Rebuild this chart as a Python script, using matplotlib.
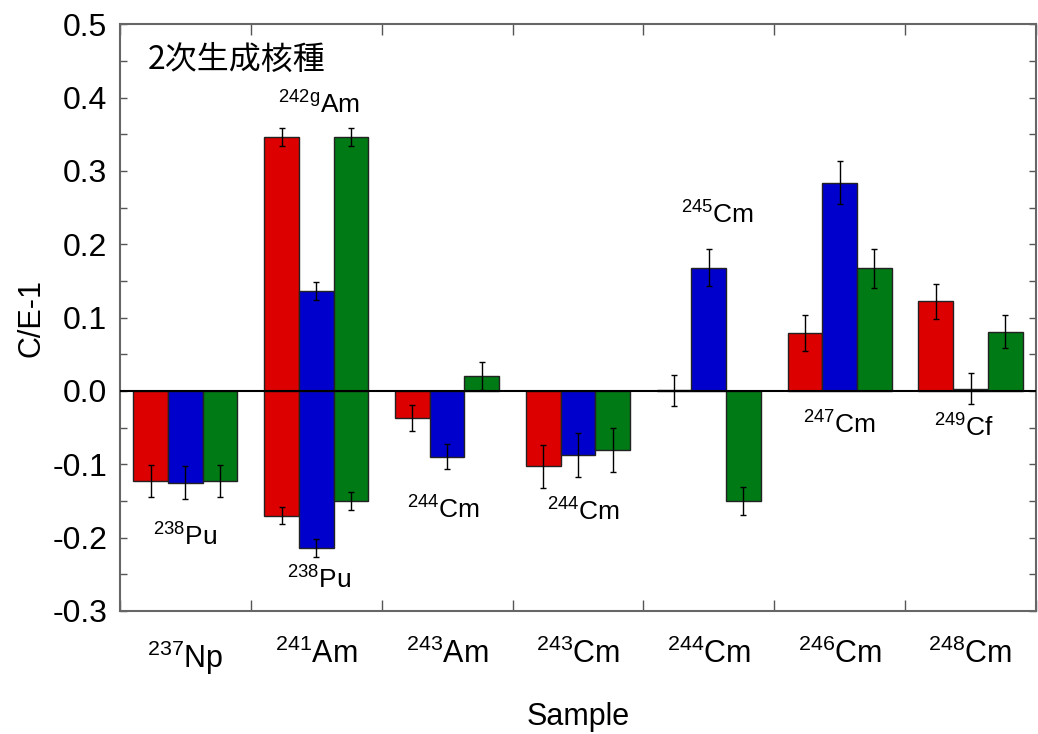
import numpy as np
import matplotlib
matplotlib.use('Agg')
import matplotlib.pyplot as plt
from matplotlib.ticker import MultipleLocator

plt.rcParams['font.family'] = ['Liberation Sans', 'DejaVu Sans']
plt.rcParams['mathtext.fontset'] = 'custom'
plt.rcParams['mathtext.rm'] = 'Liberation Sans'
plt.rcParams['mathtext.it'] = 'Liberation Sans:italic'

# Samples on the x axis
samples = [r'$\mathregular{^{237}}$Np', r'$\mathregular{^{241}}$Am', r'$\mathregular{^{243}}$Am',
           r'$\mathregular{^{243}}$Cm', r'$\mathregular{^{244}}$Cm', r'$\mathregular{^{246}}$Cm',
           r'$\mathregular{^{248}}$Cm']

# Secondary nuclides: which sample they come from and C/E-1 for the three libraries
product_sample = [0, 1, 1, 2, 3, 4, 5, 6]
product_names = [r'$\mathregular{^{238}}$Pu', r'$\mathregular{^{242g}}$Am', r'$\mathregular{^{238}}$Pu',
                 r'$\mathregular{^{244}}$Cm', r'$\mathregular{^{244}}$Cm', r'$\mathregular{^{245}}$Cm',
                 r'$\mathregular{^{247}}$Cm', r'$\mathregular{^{249}}$Cf']
ce_red = [-0.123, 0.346, -0.170, -0.037, -0.103, 0.001, 0.079, 0.122]
ce_blue = [-0.125, 0.136, -0.214, -0.090, -0.087, 0.168, 0.284, 0.003]
ce_green = [-0.123, 0.346, -0.150, 0.020, -0.080, -0.150, 0.167, 0.081]
err_red = [0.022, 0.012, 0.012, 0.018, 0.029, 0.021, 0.024, 0.024]
err_blue = [0.022, 0.012, 0.012, 0.017, 0.030, 0.025, 0.029, 0.021]
err_green = [0.022, 0.012, 0.012, 0.019, 0.030, 0.019, 0.026, 0.023]

# label anchor (x, y) in data units for each product
label_pos = [(0.0, -0.199), (1.02, 0.39), (1.02, -0.258), (1.97, -0.162),
             (3.04, -0.165), (4.07, 0.24), (5.0, -0.046), (5.95, -0.05)]

colors = ['#dd0000', '#0000cc', '#007a14']
width = 0.265

fig = plt.figure(figsize=(10.38, 7.34), dpi=100)
ax = fig.add_axes([0.1156, 0.1676, 0.8824, 0.7994])

x = np.array(product_sample, dtype=float)
for k, (vals, errs) in enumerate([(ce_red, err_red), (ce_blue, err_blue), (ce_green, err_green)]):
    xs = x + (k - 1) * width
    ax.bar(xs, vals, width=width, color=colors[k], edgecolor='#222222', linewidth=1.0, zorder=2)
    ax.errorbar(xs, vals, yerr=errs, fmt='none', ecolor='black', elinewidth=1.0,
                capsize=2, capthick=1.0, zorder=3)

for name, (lx, ly) in zip(product_names, label_pos):
    ax.text(lx, ly, name, fontsize=19, ha='center', va='center')

ax.text(0.03, 0.94, '2次生成核種', transform=ax.transAxes, fontsize=23,
        family=['Noto Sans CJK JP', 'DejaVu Sans'], ha='left', va='center')

ax.axhline(0, color='black', linewidth=1.5, zorder=4)

ax.set_xlim(-0.5, 6.5)
ax.set_ylim(-0.3, 0.5)
ax.set_xticks(np.arange(len(samples)))
ax.set_xticklabels(samples, fontsize=22)
ax.set_xticks(np.arange(-0.5, 6.6, 1.0), minor=True)
ax.yaxis.set_major_locator(MultipleLocator(0.1))
ax.yaxis.set_minor_locator(MultipleLocator(0.05))
ax.set_yticklabels([f'{v:.1f}' for v in ax.get_yticks()], fontsize=23)

ax.tick_params(axis='x', which='major', length=0, pad=20)
ax.tick_params(axis='x', which='minor', length=8, width=1, direction='in',
               top=True, bottom=True, color='#555555')
ax.tick_params(axis='y', which='both', direction='in', left=True, right=True,
               length=5, width=1, color='#555555')
ax.tick_params(axis='y', which='major', pad=9)
for s in ax.spines.values():
    s.set_color('#666666')
    s.set_linewidth(1.5)

ax.set_xlabel('Sample', fontsize=22, labelpad=18)
ax.set_ylabel('C/E-1', fontsize=22, labelpad=4)

fig.savefig('out.png', dpi=100)
